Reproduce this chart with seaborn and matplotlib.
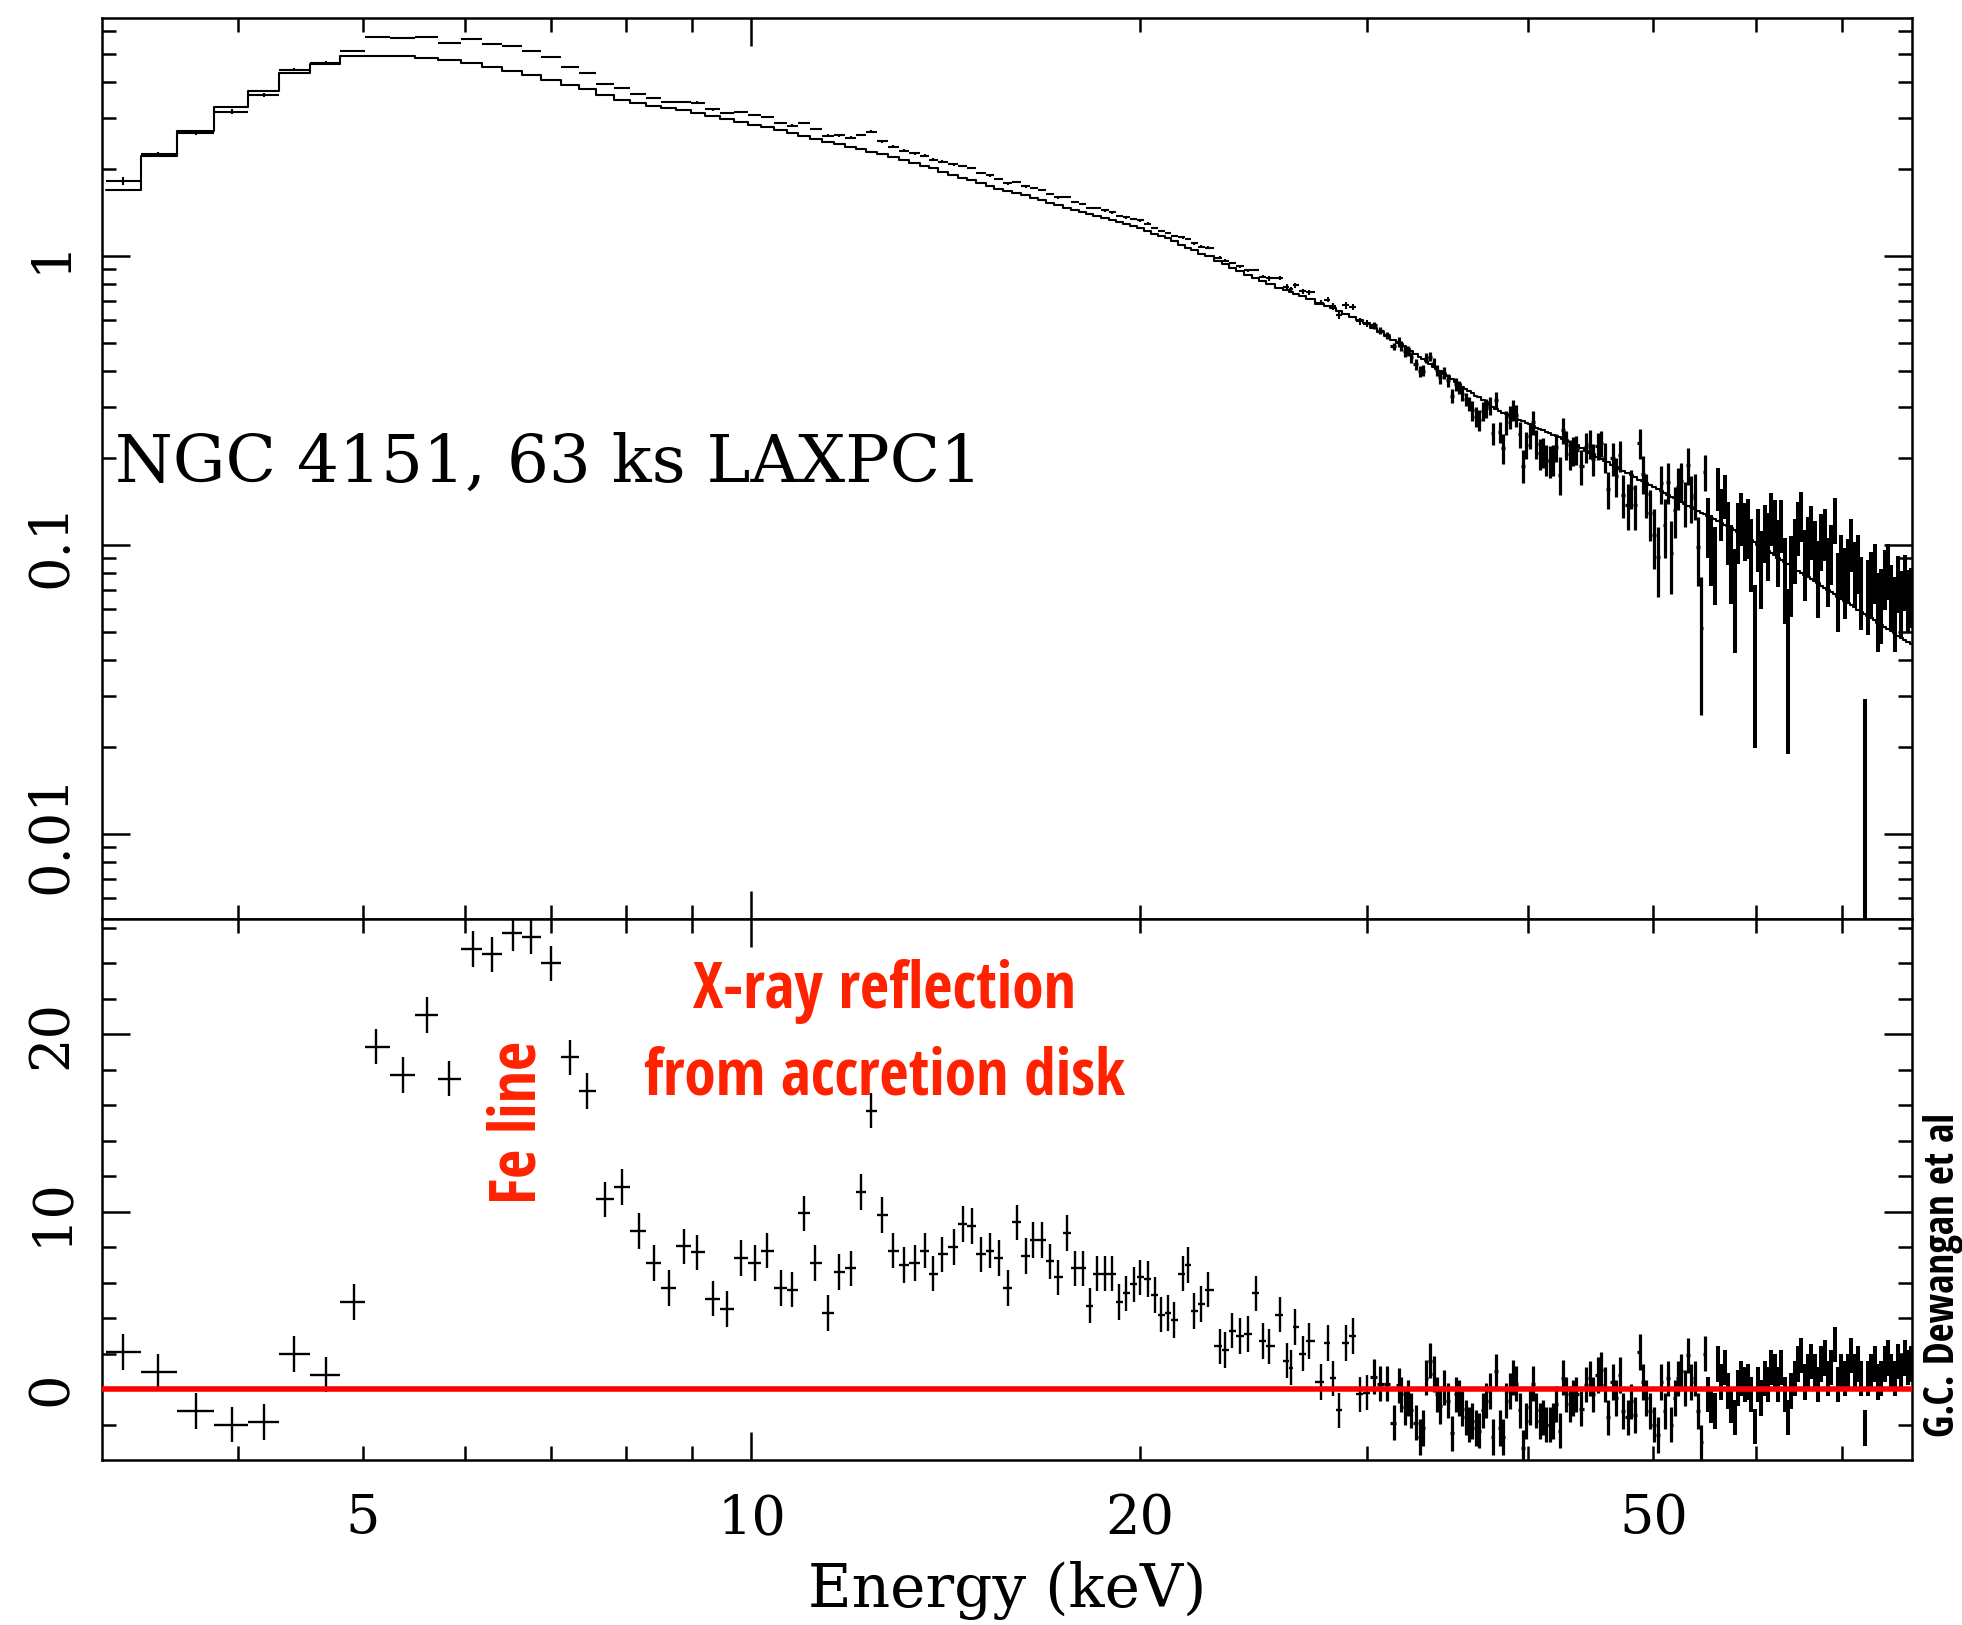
import numpy as np
import pandas as pd
import matplotlib
matplotlib.use("Agg")
import matplotlib.pyplot as plt
import seaborn as sns
from matplotlib import font_manager as fm
from matplotlib.ticker import FixedLocator, FixedFormatter, NullFormatter, FuncFormatter

# ---------------- data ----------------
# bin centre energies (keV)
energy_low = [3.26, 3.47, 3.71, 3.96, 4.19, 4.42, 4.68, 4.92, 5.12, 5.37, 5.61, 5.83, 6.08,
              6.30, 6.53, 6.75, 7.00, 7.24, 7.46, 7.70, 7.94, 8.18, 8.40, 8.63, 8.87]
energy_mid = [9.08, 9.33, 9.57, 9.82, 10.06, 10.28, 10.54, 10.76, 10.99, 11.21, 11.47, 11.70,
              11.94, 12.15, 12.38, 12.63, 12.88, 13.13, 13.38, 13.63, 13.83, 14.06, 14.35,
              14.59, 14.81, 15.06, 15.31, 15.55, 15.80, 16.06, 16.31, 16.54, 16.80, 17.05,
              17.29, 17.57, 17.82, 18.06, 18.29, 18.52, 18.79, 19.04, 19.27, 19.52, 19.78,
              20.02, 20.29, 20.53, 20.77, 21.03, 21.24, 21.58, 21.78, 22.04, 22.31, 22.58,
              23.06, 23.29, 23.58, 23.92, 24.24, 24.60, 24.90, 25.18, 25.68, 25.99, 26.19,
              26.37, 26.75, 27.02, 27.61, 27.96, 28.24, 28.53, 28.88, 29.24, 29.60, 29.97,
              30.36, 30.71, 31.07, 31.45]
energy_hi1 = [31.75, 31.88, 32.07, 32.26, 32.46, 32.71, 32.94, 33.14, 33.34, 33.58, 33.78,
              33.98, 34.14, 34.38, 34.63, 34.88, 35.13, 35.34, 35.55, 35.76, 35.97, 36.19,
              36.40, 36.62, 36.88, 37.10, 37.32, 37.55, 37.72, 37.99, 38.22, 38.45, 38.68,
              38.91, 39.14, 39.37, 39.61, 39.85, 40.08, 40.32, 40.56, 40.80, 41.05, 41.29,
              41.54, 41.79, 42.04, 42.29, 42.54, 42.79, 43.05, 43.31, 43.56]
energy_hi2 = [43.95, 44.34, 44.61, 44.87, 45.28, 45.55, 45.82, 46.09, 46.51, 46.78, 47.06,
              47.34, 47.77, 48.05, 48.34, 48.77, 49.06, 49.36, 49.65, 50.01, 50.40, 50.70,
              51.00, 51.30, 51.61, 51.92, 52.23, 52.54, 52.85, 53.17, 53.49, 53.81, 54.13,
              54.45, 54.77, 55.10, 55.43, 55.76, 56.09, 56.43, 56.76, 57.10, 57.44, 57.79,
              58.13, 58.48, 58.83, 59.18, 59.53, 59.89, 60.24, 60.60, 60.97, 61.33, 61.69,
              62.06, 62.43, 62.81, 63.18, 63.56, 63.94, 64.32, 64.70, 65.09, 65.48, 65.87,
              66.26, 66.66, 67.05, 67.45, 67.86, 68.26, 68.67, 69.08, 69.49, 69.90, 70.32,
              70.74, 71.16, 71.59, 72.01, 72.44, 72.88, 73.31, 73.75, 74.19, 74.63, 75.08,
              75.52, 75.98, 76.43, 76.88, 77.34, 77.81, 78.27, 78.74, 79.21]

# residuals (data - model) / error, lower panel
resid_low = [2.1, 0.95, -1.23, -2.0, -1.87, 1.97, 0.82, 4.92, 19.3, 17.7, 21.1, 17.5, 24.8,
             24.5, 25.7, 25.5, 24.0, 18.7, 16.8, 10.7, 11.4, 8.9, 7.1, 5.7, 8.05]
resid_mid = [7.7, 5.1, 4.5, 7.4, 7.1, 7.8, 5.7, 5.6, 9.9, 7.1, 4.3, 6.6, 6.8, 11.1, 15.7, 9.8,
             7.8, 7.0, 7.1, 7.8, 6.5, 7.6, 8.0, 9.3, 9.2, 7.6, 7.8, 7.4, 5.7, 9.4, 7.5, 8.4,
             8.4, 7.2, 6.3, 8.8, 6.8, 6.8, 4.7, 6.5, 6.5, 6.5, 4.9, 5.4, 5.9, 6.3, 6.2, 5.3,
             4.2, 4.3, 3.9, 6.5, 7.0, 4.4, 4.8, 5.6, 2.4, 2.2, 3.3, 3.0, 3.1, 5.4, 2.7, 2.4,
             4.2, 1.6, 1.2, 3.5, 2.0, 2.7, 0.4, 2.6, 0.6, -1.2, 2.6, 3.0, -0.3, -0.2, 0.7,
             0.3, 0.3, -1.9]
resid_hi1 = [0.2, -0.3, -1.0, -0.5, -1.2, -1.9, -2.7, -2.2, 0.65, 1.6, 0.85, -0.3, -0.95,
             0.1, -0.65, -2.5, -0.3, -0.5, -1.1, -1.6, -2.0, -1.8, -2.2, -2.35, -1.2, -0.65,
             -0.1, -2.7, 1.0, -2.2, -2.7, -0.65, -0.1, 0.65, 0.3, -1.2, -3.3, -1.8, -1.0,
             0.3, -1.2, -1.8, -1.6, -2.0, -2.0, -1.8, -0.85, -2.35, 0.65, -0.3, -0.85, -0.5,
             -0.3]
resid_hi2 = [-1.1, 0.25, 0.6, -0.3, 0.8, 1.1, 0.25, -1.6, 0.4, -0.5, 0.8, -1.25, -1.6, -0.7,
             -1.45, 2.1, 0.4, -0.5, -1.25, -2.0, -2.6, 0.4, -1.25, 0.6, -2.0, -0.5, 0.6, 1.0,
             0.05, 1.9, 0.4, 0.6, -1.25, -3.0, 2.0, -0.3, -0.9, -1.25, 1.4, 0.4, 1.2, -0.1,
             -0.9, -1.6, 0.05, 0.6, 0.25, 0.4, -0.3, -2.1, 0.25, -0.5, 0.6, 0.25, 1.2, 1.0,
             0.25, 1.2, -0.3, -1.6, -0.1, 0.6, 1.4, 1.9, 0.4, 1.0, 1.55, 1.0, 0.25, 1.4,
             1.75, 0.6, 1.2, 2.5, 0.25, 1.0, 0.6, 1.0, 1.9, 1.0, 1.4, 0.6, -2.2, 0.6, 1.0,
             1.4, 0.4, 0.6, 1.4, 1.75, 1.0, 0.6, 1.55, 1.0, 1.75, 1.2, 1.4]

# model counts (counts/s/keV), upper panel step line
model_low = [1.69, 2.22, 2.71, 3.29, 3.72, 4.29, 4.62, 4.93, 4.93, 4.93, 4.86, 4.75, 4.64,
             4.50, 4.36, 4.22, 4.05, 3.90, 3.77, 3.60, 3.48, 3.39, 3.31, 3.25, 3.19]
model_mid = [3.13, 3.05, 2.98, 2.91, 2.85, 2.79, 2.72, 2.66, 2.60, 2.55, 2.49, 2.44, 2.39,
             2.34, 2.30, 2.25, 2.20, 2.15, 2.10, 2.05, 2.01, 1.96, 1.91, 1.86, 1.83, 1.79,
             1.75, 1.71, 1.68, 1.65, 1.62, 1.59, 1.56, 1.53, 1.50, 1.47, 1.44, 1.42, 1.40,
             1.38, 1.35, 1.33, 1.31, 1.29, 1.27, 1.25, 1.22, 1.19, 1.17, 1.15, 1.13, 1.09,
             1.07, 1.05, 1.02, 1.00, 0.96, 0.94, 0.91, 0.89, 0.86, 0.84, 0.82, 0.80, 0.775,
             0.76, 0.75, 0.74, 0.725, 0.71, 0.685, 0.672, 0.66, 0.645, 0.63, 0.615, 0.60,
             0.586, 0.565, 0.546, 0.527, 0.514]
model_hi1 = [0.50, 0.495, 0.487, 0.478, 0.469, 0.458, 0.448, 0.440, 0.432, 0.422, 0.414,
             0.407, 0.401, 0.392, 0.384, 0.375, 0.366, 0.360, 0.353, 0.347, 0.341, 0.335,
             0.329, 0.324, 0.317, 0.312, 0.306, 0.300, 0.296, 0.290, 0.287, 0.283, 0.280,
             0.277, 0.274, 0.271, 0.268, 0.265, 0.262, 0.258, 0.255, 0.253, 0.250, 0.247,
             0.244, 0.241, 0.238, 0.236, 0.233, 0.230, 0.228, 0.224, 0.221]
model_hi2 = [0.216, 0.212, 0.209, 0.206, 0.2015, 0.1986, 0.1958, 0.193, 0.189, 0.1863,
             0.1836, 0.181, 0.1772, 0.1746, 0.172, 0.1685, 0.166, 0.1637, 0.1614, 0.1587,
             0.1557, 0.1535, 0.1514, 0.1492, 0.1471, 0.1451, 0.143, 0.141, 0.139, 0.137,
             0.1351, 0.1332, 0.1313, 0.1295, 0.1278, 0.126, 0.1243, 0.1226, 0.121, 0.1193,
             0.1177, 0.1161, 0.1145, 0.1129, 0.1113, 0.1094, 0.1075, 0.1056, 0.1039, 0.1021,
             0.1003, 0.0986, 0.0969, 0.0953, 0.0937, 0.0921, 0.0905, 0.0889, 0.0874, 0.0859,
             0.0844, 0.0830, 0.0816, 0.0802, 0.0788, 0.0774, 0.0761, 0.0748, 0.0736, 0.0723,
             0.0710, 0.0698, 0.0686, 0.0675, 0.0663, 0.0652, 0.0641, 0.0630, 0.0619, 0.0608,
             0.0598, 0.0588, 0.0578, 0.0568, 0.0558, 0.0549, 0.0539, 0.0530, 0.0521, 0.0512,
             0.0503, 0.0495, 0.0486, 0.0478, 0.0470, 0.0462, 0.0454]

# 1-sigma flux error, per cent of the model
errpct_low = [3.6, 1.8, 1.6, 2.0, 1.5, 1.5, 1.4, 0.8, 0.85, 0.85, 0.85, 0.85, 0.85, 0.85,
              0.85, 0.85, 0.85, 0.85, 0.85, 0.85, 0.85, 0.85, 0.85, 0.85, 0.85]
errpct_mid = [1.1, 1.1, 1.1, 1.1, 1.1, 1.1, 1.1, 1.1, 1.1, 1.1, 1.1, 1.1, 1.1, 1.1, 1.1,
              1.1, 1.1, 1.1, 1.1, 1.1, 1.1, 1.1, 1.1, 1.1, 1.1, 1.1, 1.1, 1.1, 1.1,
              1.0, 1.0, 1.0, 1.0, 1.0, 1.0, 1.0, 1.0, 1.0, 1.0, 1.0, 1.0, 1.0, 1.0, 1.0,
              1.0, 1.0, 1.0, 1.0, 1.0, 1.0, 1.0, 1.0, 1.0,
              1.2, 1.2, 1.2, 1.2, 1.2, 1.2, 1.2, 1.2, 1.2, 1.2,
              2.0, 2.0, 2.0, 2.0, 2.0, 2.0, 2.0, 2.0, 2.0,
              2.8, 2.8, 2.8, 2.8, 2.8, 2.8, 2.8, 2.8, 2.8, 2.8]
errpct_hi1 = [4, 4, 4, 4, 4, 4, 4, 4, 4, 4, 4, 4, 5, 5, 5, 5, 5, 5, 5, 5, 5,
              7, 7, 7, 7, 7, 7, 7, 7, 7, 9, 9, 9, 9, 9, 9, 9, 9, 9,
              10, 10, 10, 10, 10, 10, 10, 10, 11, 11, 11, 11, 11, 11]
errpct_hi2 = [12, 12, 12, 12, 12, 12, 12, 12, 14, 14, 14, 14, 14, 14, 14,
              16, 16, 16, 16, 16, 16, 16, 18, 18, 18, 18, 18, 18, 18,
              20, 20, 20, 20, 20, 20, 22, 22, 22, 22, 22, 22, 24, 24, 24, 24, 24, 24,
              26, 26, 26, 26, 26, 26, 28, 28, 28, 28, 28, 30, 30, 30, 30, 30,
              31, 31, 31, 31, 31, 32, 32, 32, 32, 32, 33, 33, 33, 33, 33,
              34, 34, 34, 34, 41, 35, 35, 35, 35, 35, 35, 35, 35, 35, 35, 35, 35, 35, 35]

x_ticklabels = {5: "5", 10: "10", 20: "20", 50: "50"}
title_text = "NGC 4151, 63 ks LAXPC1"

# ---------------- assemble ----------------
E = np.array(energy_low + energy_mid + energy_hi1 + energy_hi2)
R = np.array(resid_low + resid_mid + resid_hi1 + resid_hi2)
M = np.array(model_low + model_mid + model_hi1 + model_hi2)
P = np.array(errpct_low + errpct_mid + errpct_hi1 + errpct_hi2, dtype=float)
sig = M * P / 100.0
D = M + R * sig

lg = np.log10(E)
mids = 10 ** ((lg[:-1] + lg[1:]) / 2)
edges = np.concatenate([[E[0] ** 2 / mids[0]], mids, [E[-1] ** 2 / mids[-1]]])
xlo = E - edges[:-1]
xhi = edges[1:] - E
# line weight groups (denser bins toward high energy are drawn heavier, as in the original)
groups = [(E <= 30.0, 1.5, 1.7), ((E > 30.0) & (E <= 55.0), 2.3, 2.3), (E > 55.0, 2.9, 2.9)]

sns.set_theme(style="ticks")
plt.rcParams["font.family"] = ["DejaVu Serif"]


def condensed_bold():
    pref = ["Open Sans", "Noto Sans", "DejaVu Sans", "Liberation Sans", "Roboto", "Lato", "Inter"]
    wmap = {"bold": 700, "semibold": 600, "demibold": 600, "demi": 600, "heavy": 800,
            "extra bold": 800, "black": 900}
    best = None
    for f in fm.fontManager.ttflist:
        st = str(f.stretch).lower()
        nm = f.name.lower()
        try:
            wv = int(f.weight)
        except (TypeError, ValueError):
            wv = wmap.get(str(f.weight).lower(), 400)
        is_cond = ("condensed" in st) or ("narrow" in st) or ("condensed" in nm) or ("narrow" in nm)
        if st.isdigit():
            is_cond = is_cond or int(st) < 100
        if is_cond and wv >= 600 and str(f.style) == "normal" and "cjk" not in nm:
            rank = next((i for i, p in enumerate(pref) if f.name.startswith(p)), len(pref))
            key = (rank, abs(wv - 700))
            if best is None or key < best[0]:
                best = (key, f.fname)
    if best is not None:
        return fm.FontProperties(fname=best[1])
    return fm.FontProperties(family=["Open Sans", "DejaVu Sans"], weight="bold")


fig = plt.figure(figsize=(19.62, 16.25), dpi=100)
ax1 = fig.add_axes([0.05224, 0.43446, 0.92227, 0.55477])
ax2 = fig.add_axes([0.05224, 0.10154, 0.92227, 0.33292], sharex=ax1)

XMIN, XMAX = 3.142, 79.3
ax1.set_xscale("log")
ax1.set_yscale("log")

model_df = pd.DataFrame({"energy": edges, "flux": np.append(M, M[-1])})
sns.lineplot(data=model_df, x="energy", y="flux", drawstyle="steps-post", estimator=None,
             sort=False, color="black", linewidth=1.5, ax=ax1)
for mask, lw_top, lw_bot in groups:
    ax1.errorbar(E[mask], D[mask], yerr=sig[mask], xerr=[xlo[mask], xhi[mask]], fmt="none",
                 ecolor="black", elinewidth=lw_top, capsize=0, zorder=3)
    ax2.errorbar(E[mask], R[mask], yerr=np.ones(mask.sum()), xerr=[xlo[mask], xhi[mask]],
                 fmt="none", ecolor="black", elinewidth=lw_bot, capsize=0, zorder=3)
ax2.axhline(0.0, color="#ff0000", lw=4.0, zorder=5)

ax1.set_ylim(0.00508, 6.69)
ax2.set_ylim(-4.0, 26.5)
ax1.set_xlim(XMIN, XMAX)

for ax in (ax1, ax2):
    ax.set_xlabel("")
    ax.set_ylabel("")
    ax.xaxis.set_major_locator(FixedLocator([10]))
    ax.xaxis.set_minor_locator(FixedLocator([4, 5, 6, 7, 8, 9, 20, 30, 40, 50, 60, 70]))
    ax.tick_params(which="both", direction="in", top=True, right=True, bottom=True,
                   left=True, width=1.8, colors="black", labelsize=39)
    ax.tick_params(which="major", length=20)
    ax.tick_params(which="minor", length=10)
    for s in ax.spines.values():
        s.set_linewidth(1.8)
        s.set_color("black")
        s.set_visible(True)

ax1.yaxis.set_major_locator(FixedLocator([0.01, 0.1, 1]))
ax1.yaxis.set_minor_locator(FixedLocator(
    [0.006, 0.007, 0.008, 0.009, 0.02, 0.03, 0.04, 0.05, 0.06, 0.07, 0.08, 0.09,
     0.2, 0.3, 0.4, 0.5, 0.6, 0.7, 0.8, 0.9, 2, 3, 4, 5, 6]))
ax1.yaxis.set_major_formatter(FixedFormatter(["0.01", "0.1", "1"]))
ax1.yaxis.set_minor_formatter(NullFormatter())
ax1.tick_params(axis="x", which="both", labelbottom=False)

ax2.yaxis.set_major_locator(FixedLocator([0, 10, 20]))
ax2.yaxis.set_minor_locator(FixedLocator([-2, 2, 4, 6, 8, 12, 14, 16, 18, 22, 24, 26]))
ax2.yaxis.set_major_formatter(FixedFormatter(["0", "10", "20"]))
fmt = FuncFormatter(lambda v, p: x_ticklabels.get(int(round(v)), ""))
ax2.xaxis.set_major_formatter(fmt)
ax2.xaxis.set_minor_formatter(fmt)
ax2.tick_params(axis="x", which="both", pad=24)

for ax in (ax1, ax2):
    ax.tick_params(axis="y", which="both", pad=18, labelrotation=90)
    for t in ax.get_yticklabels():
        t.set_verticalalignment("center")

fig.text(0.0587, 0.7034, title_text, fontsize=47.5, ha="left", va="baseline",
         family="DejaVu Serif", color="black")
fig.text(0.5133, 0.0111, "Energy (keV)", fontsize=43, ha="center", va="baseline",
         family="DejaVu Serif", color="black")

# ---- annotations in a bold condensed sans, sized to the widths in the original ----
fp = condensed_bold()
renderer = fig.canvas.get_renderer()


def fitted_size(text, target_px, base=40.0):
    probe = fig.text(0, 0, text, fontproperties=fp, fontsize=base)
    w = probe.get_window_extent(renderer).width
    probe.remove()
    return base * target_px / w


red = "#ff2200"
s_red = fitted_size("from accretion disk", 481.0)
s_gc = fitted_size("G.C. Dewangan et al", 325.0)

fig.text(0.451, 0.380, "X-ray reflection", fontproperties=fp, fontsize=s_red, color=red,
         ha="center", va="baseline")
fig.text(0.4506, 0.3262, "from accretion disk", fontproperties=fp, fontsize=s_red, color=red,
         ha="center", va="baseline")
fig.text(0.2727, 0.309, "Fe line", fontproperties=fp, fontsize=s_red, color=red, rotation=90,
         rotation_mode="anchor", ha="center", va="baseline")
fig.text(0.9908, 0.2154, "G.C. Dewangan et al", fontproperties=fp, fontsize=s_gc,
         color="black", rotation=90, rotation_mode="anchor", ha="center", va="center")

fig.savefig("out.png", dpi=100, facecolor="white")
